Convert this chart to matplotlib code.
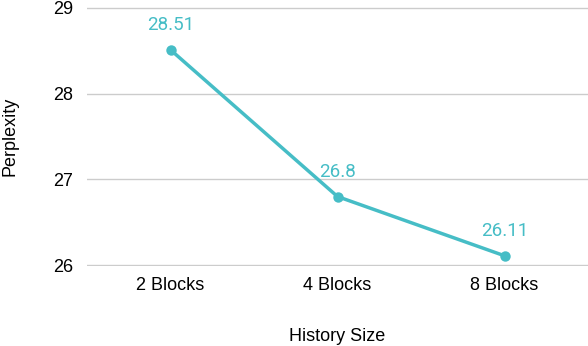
import matplotlib.pyplot as plt

categories = ["2 Blocks", "4 Blocks", "8 Blocks"]
perplexity = [28.51, 26.8, 26.11]
y_ticks = [26, 27, 28, 29]

teal = "#46bdc6"

fig = plt.figure(figsize=(5.88, 3.46), dpi=100)
ax = fig.add_axes([0.148, 0.231, 0.852, 0.749])

x = list(range(len(categories)))
ax.plot(x, perplexity, color=teal, linewidth=2.5, marker="o", markersize=7.5,
        markeredgewidth=0, zorder=3)

for xi, v in zip(x, perplexity):
    ax.annotate(f"{v:g}", xy=(xi, v), xytext=(0, 18), textcoords="offset points",
                ha="center", va="center", color=teal, fontsize=13.5, family="Roboto",
                zorder=2,
                arrowprops=dict(arrowstyle="-", color="#dff2f4", lw=0.8, shrinkA=7, shrinkB=4))

ax.set_xlim(-0.5, 2.5)
ax.set_ylim(25.99, 29.01)
ax.set_yticks(y_ticks)
ax.set_xticks(x)
ax.set_xticklabels(categories)
ax.tick_params(length=0, labelsize=13, pad=8)
for lab in ax.get_xticklabels() + ax.get_yticklabels():
    lab.set_family("Liberation Sans")
ax.tick_params(axis="y", pad=10)
ax.grid(axis="y", color="#cccccc", linewidth=1)
ax.set_axisbelow(True)
for s in ax.spines.values():
    s.set_visible(False)

ax.set_xlabel("History Size", fontsize=13, family="Liberation Sans", labelpad=24)
ax.set_ylabel("Perplexity", fontsize=13, family="Liberation Sans", labelpad=25)

fig.savefig("out.png", dpi=100)
